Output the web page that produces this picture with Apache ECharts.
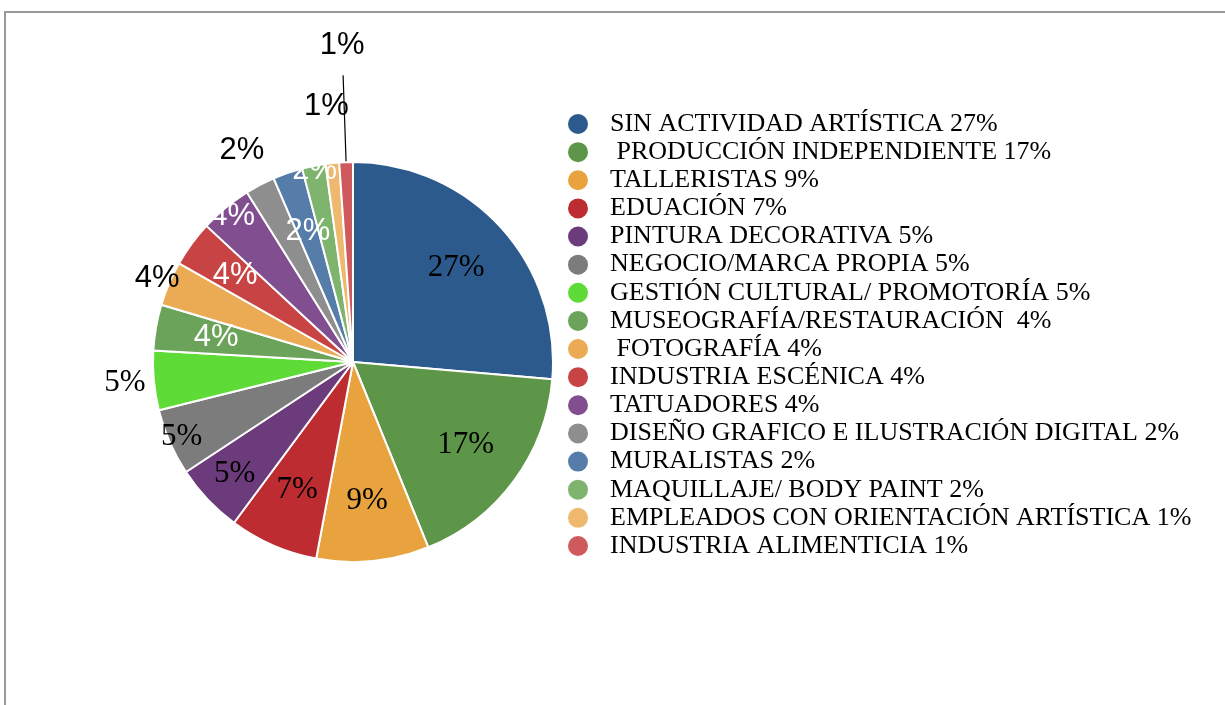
<!DOCTYPE html>
<html>
<head>
<meta charset="utf-8">
<script src="https://cdn.jsdelivr.net/npm/echarts@6/dist/echarts.min.js"></script>
<style>
  html, body { margin: 0; padding: 0; background: #fff; }
  #frame { position: absolute; left: 4px; top: 11px; right: 0; bottom: 0; border-top: 2px solid #999; border-left: 2px solid #999; }
  #chart { position: absolute; left: 0; top: 0; width: 1225px; height: 705px; }
</style>
</head>
<body>
<div id="frame"></div>
<div id="chart"></div>
<script>
// datos
const categories = [
  "SIN ACTIVIDAD ARTÍSTICA 27%",
  " PRODUCCIÓN INDEPENDIENTE 17%",
  "TALLERISTAS 9%",
  "EDUACIÓN 7%",
  "PINTURA DECORATIVA 5%",
  "NEGOCIO/MARCA PROPIA 5%",
  "GESTIÓN CULTURAL/ PROMOTORÍA 5%",
  "MUSEOGRAFÍA/RESTAURACIÓN  4%",
  " FOTOGRAFÍA 4%",
  "INDUSTRIA ESCÉNICA 4%",
  "TATUADORES 4%",
  "DISEÑO GRAFICO E ILUSTRACIÓN DIGITAL 2%",
  "MURALISTAS 2%",
  "MAQUILLAJE/ BODY PAINT 2%",
  "EMPLEADOS CON ORIENTACIÓN ARTÍSTICA 1%",
  "INDUSTRIA ALIMENTICIA 1%"
];
const values = [26.4, 17.5, 9.1, 7.2, 5.6, 5.4, 4.8, 3.7, 3.6, 3.7, 4.2, 2.4, 2.4, 1.9, 1.1, 1.1];
const pctLabels = ["27%", "17%", "9%", "7%", "5%", "5%", "5%", "4%", "4%", "4%", "4%", "2%", "2%", "2%", "1%", "1%"];

// estilos
const colors = [
  "#2d5a8c", "#5d9648", "#e9a33e", "#bc2c30", "#6c3b7b", "#7b7c7b", "#5edb36", "#6ca35a",
  "#ebab54", "#c84444", "#814f90", "#8d8e8d", "#567caa", "#7eb46e", "#eeb96f", "#cf5a5d"
];
// distancia de cada etiqueta al centro
const labelRadius = [140, 140, 140, 140, 163, 187, 229, 139, 213, 146, 189, 239, 138, 195, 257, 317];
const whiteLabels = [7, 9, 10, 12, 13];
const serifLabels = [0, 1, 2, 3, 4, 5, 6];
const center = [353, 362];

const labelStyle = (i) => ({
  fontFamily: serifLabels.includes(i) ? "Liberation Serif" : "Liberation Sans",
  fontSize: 31,
  color: whiteLabels.includes(i) ? "#fff" : "#000",
});

// anillo transparente que solo pone la etiqueta i
const labelRing = (i) => ({
  type: "pie",
  radius: [0, 2 * (labelRadius[i] - 3)],
  center: center,
  silent: true,
  legendHoverLink: false,
  avoidLabelOverlap: false,
  itemStyle: { color: "transparent", borderWidth: 0 },
  emphasis: { disabled: true },
  label: { show: false },
  labelLine: { show: false },
  data: categories.map((name, j) => ({
    name,
    value: values[j],
    label: j === i
      ? Object.assign({ show: true, position: "inside", formatter: pctLabels[i] }, labelStyle(i))
      : { show: false },
  })),
});

const chart = echarts.init(document.getElementById("chart"));
chart.setOption({
  animation: false,
  color: colors,
  legend: {
    orient: "vertical",
    left: 561,
    top: 105,
    icon: "circle",
    itemWidth: 22,
    itemHeight: 22,
    itemGap: 0.13,
    data: categories,
    textStyle: {
      fontFamily: "Liberation Serif",
      fontSize: 26,
      lineHeight: 28,
      color: "#000",
      padding: [0, 0, 0, 16],
    },
  },
  series: [
    {
      type: "pie",
      radius: [0, 200],
      center: center,
      startAngle: 90,
      avoidLabelOverlap: false,
      itemStyle: { borderColor: "#fff", borderWidth: 2 },
      label: { show: false },
      labelLine: { show: false },
      data: categories.map((name, j) => {
        const item = { name, value: values[j] };
        if (j === categories.length - 1) {
          item.label = { show: true, position: "outside", formatter: " " };
          item.labelLine = { show: true, length: 87, length2: 0, lineStyle: { color: "#000", width: 1.2 } };
        }
        return item;
      }),
    },
    ...categories.map((_, i) => labelRing(i)),
  ],
});
</script>
</body>
</html>
